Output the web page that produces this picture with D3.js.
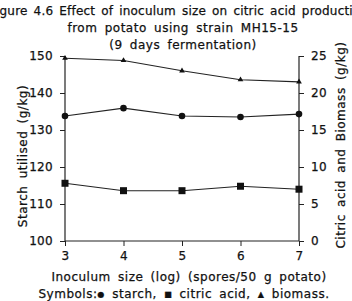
<!DOCTYPE html>
<html>
<head>
<meta charset="utf-8">
<script src="https://cdn.jsdelivr.net/npm/d3@7"></script>
<style>
  body { margin: 0; background: #fff; }
  text { font-family: "DejaVu Sans", sans-serif; fill: #111; }
</style>
</head>
<body>
<div id="chart"></div>
<script>
// inoculum size (log spores / 50 g potato)
const inoculum = [3, 4, 5, 6, 7];
const starch = [133.8, 135.9, 133.8, 133.5, 134.3];   // left axis
const citric = [7.8, 6.8, 6.8, 7.4, 7.0];             // right axis
const biomass = [24.7, 24.4, 23.0, 21.8, 21.5];       // right axis

const leftTicks = [100, 110, 120, 130, 140, 150];
const rightTicks = [0, 5, 10, 15, 20, 25];

const titleLines = [
    "Figure 4.6 Effect of inoculum size on citric acid production",
    "from potato using strain MH15-15",
    "(9 days fermentation)"
];

// legend line: plain text pieces and the symbol glyphs between them
const legendParts = [
    { t: "Symbols:", sym: false },
    { t: "\u25CF", sym: true },
    { t: " starch, ", sym: false },
    { t: "\u25A0", sym: true },
    { t: " citric acid, ", sym: false },
    { t: "\u25B2", sym: true },
    { t: " biomass.", sym: false }
];

const W = 352, H = 301;
const margin = { top: 56, right: 53, bottom: 60, left: 65 };
const width = W - margin.left - margin.right;
const height = H - margin.top - margin.bottom;

const svg = d3.select("#chart").append("svg")
    .attr("width", W)
    .attr("height", H);

const g = svg.append("g")
    .attr("transform", `translate(${margin.left}, ${margin.top})`);

const x = d3.scaleLinear().domain([3, 7]).range([0, width]);
const yL = d3.scaleLinear().domain([100, 150]).range([height, 0]);
const yR = d3.scaleLinear().domain([0, 25]).range([height, 0]);

// text style shared by every label
function styleText(sel, size) {
    sel.attr("font-size", size + "px")
        .attr("fill", "#111")
        .attr("stroke", "#111")
        .attr("stroke-width", 0.25)
        .attr("letter-spacing", "0.5px")
        .attr("word-spacing", "3px")
        .style("font-family", "'DejaVu Sans', sans-serif");
    return sel;
}

// axes
const axX = g.append("g")
    .attr("transform", `translate(0, ${height})`)
    .call(d3.axisBottom(x).tickValues(inoculum).tickSize(5).tickPadding(5).tickFormat(d3.format("d")));
const axL = g.append("g")
    .call(d3.axisLeft(yL).tickValues(leftTicks).tickSize(5).tickPadding(7));
const axR = g.append("g")
    .attr("transform", `translate(${width}, 0)`)
    .call(d3.axisRight(yR).tickValues(rightTicks).tickSize(5).tickPadding(7));

[axX, axL, axR].forEach(a => {
    a.select(".domain").attr("stroke", "#222").attr("stroke-width", 1.2);
    a.selectAll(".tick line").attr("stroke", "#222");
    styleText(a.selectAll("text"), 12).attr("letter-spacing", "0.3px");
});
axX.select(".domain").attr("d", `M0,0H${width}`);
axL.select(".domain").attr("d", `M0,${height}V0`);
axR.select(".domain").attr("d", `M0,${height}V0`);

// lines
function drawSeries(vals, yScale) {
    const pts = vals.map((v, i) => [x(inoculum[i]), yScale(v)]);
    g.append("path")
        .attr("d", d3.line()(pts))
        .attr("fill", "none")
        .attr("stroke", "#222")
        .attr("stroke-width", 1.1);
    return pts;
}

const sPts = drawSeries(starch, yL);
const cPts = drawSeries(citric, yR);
const bPts = drawSeries(biomass, yR);

g.selectAll("circle.starch").data(sPts).join("circle")
    .attr("cx", d => d[0]).attr("cy", d => d[1]).attr("r", 3.3)
    .attr("fill", "#111");

g.selectAll("rect.citric").data(cPts).join("rect")
    .attr("x", d => d[0] - 3.5).attr("y", d => d[1] - 3.5)
    .attr("width", 7).attr("height", 7)
    .attr("fill", "#111");

g.selectAll("path.biomass").data(bPts).join("path")
    .attr("d", d3.symbol(d3.symbolTriangle, 14))
    .attr("transform", d => `translate(${d[0]}, ${d[1]})`)
    .attr("fill", "#111");

// title
titleLines.forEach((t, i) => {
    const tt = styleText(svg.append("text"), 12)
        .attr("x", i === 0 ? 179 : 183)
        .attr("y", 15 + i * 17)
        .attr("text-anchor", "middle")
        .text(t);
    if (i === 0) tt.attr("letter-spacing", "0.2px").attr("word-spacing", "2px");
});

// axis titles
styleText(svg.append("text"), 12)
    .attr("transform", "translate(27, 156) rotate(-90)")
    .attr("text-anchor", "middle")
    .text("Starch utilised (g/kg)");

styleText(svg.append("text"), 12)
    .attr("transform", "translate(345, 145) rotate(-90)")
    .attr("text-anchor", "middle")
    .text("Citric acid and Biomass (g/kg)");

styleText(svg.append("text"), 12)
    .attr("x", 189).attr("y", 281)
    .attr("text-anchor", "middle")
    .text("Inoculum size (log) (spores/50 g potato)");

const legend = styleText(svg.append("text"), 12)
    .attr("x", 184).attr("y", 298)
    .attr("text-anchor", "middle");
legend.selectAll("tspan").data(legendParts).join("tspan")
    .attr("font-size", d => d.sym ? "8px" : "12px")
    .attr("dy", d => d.sym ? "-1" : null)
    .style("white-space", "pre")
    .text(d => d.t);
legend.selectAll("tspan").filter((d, i) => i > 0 && !legendParts[i].sym && legendParts[i - 1].sym)
    .attr("dy", "1");
</script>
</body>
</html>
